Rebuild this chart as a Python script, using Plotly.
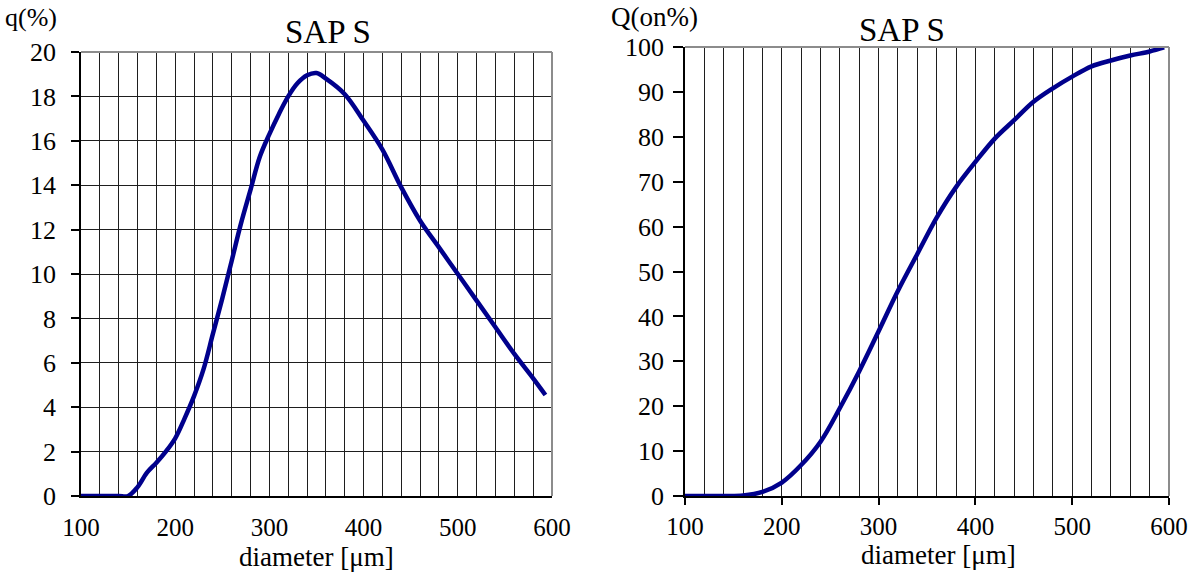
import plotly.graph_objects as go

# ---------------- data ----------------
q_diameter = [100, 120, 140, 150, 160, 170, 180, 190, 200, 210, 220, 230, 240, 250, 260,
              270, 280, 290, 300, 310, 320, 330, 340, 350, 360, 380, 400, 420, 440, 460,
              480, 500, 520, 540, 560, 580, 593]
q_values = [0, 0, 0, 0, 0.4, 1.05, 1.5, 2.0, 2.6, 3.5, 4.5, 5.7, 7.3, 8.9, 10.6,
            12.3, 13.8, 15.3, 16.3, 17.2, 18.0, 18.6, 18.95, 19.05, 18.8, 18.1, 16.9, 15.6, 13.9, 12.4,
            11.2, 10.0, 8.8, 7.6, 6.4, 5.3, 4.55]

Q_diameter = [100, 120, 140, 160, 180, 200, 220, 240, 260, 280, 300, 320, 340, 360, 380,
              400, 420, 440, 460, 480, 500, 520, 540, 560, 580, 595]
Q_values = [0, 0, 0, 0.1, 0.9, 3.0, 6.9, 12.1, 19.6, 27.8, 36.7, 45.7, 53.9, 62.0, 68.8,
            74.4, 79.6, 83.7, 87.8, 90.8, 93.4, 95.7, 97.0, 98.1, 99.0, 99.9]

x_ticks = [100, 200, 300, 400, 500, 600]
x_grid = [100 + 20 * i for i in range(26)]
q_ticks = [0, 2, 4, 6, 8, 10, 12, 14, 16, 18, 20]
Q_ticks = [0, 10, 20, 30, 40, 50, 60, 70, 80, 90, 100]

title_text = "SAP S"
x_title = "diameter [μm]"
q_title = "q(%)"
Q_title = "Q(on%)"

# ---------------- layout helpers ----------------
W, H = 1195, 572
def px(x):
    return x / W
def py(y):
    return 1 - y / H

FONT = "'Liberation Serif', 'DejaVu Serif', serif"
LINE = "#00008C"
GRID = "#1e1e1e"
TS = 26
XS = 25

fig = go.Figure()
fig.add_trace(go.Scatter(x=q_diameter, y=q_values, mode="lines",
                         line=dict(color=LINE, width=4.5, shape="spline", smoothing=1.0),
                         xaxis="x", yaxis="y", hoverinfo="skip"))
fig.add_trace(go.Scatter(x=Q_diameter, y=Q_values, mode="lines",
                         line=dict(color=LINE, width=4.5, shape="spline", smoothing=1.0),
                         xaxis="x2", yaxis="y2", hoverinfo="skip"))

common_x = dict(range=[100, 600], tickmode="array", tickvals=x_ticks,
                ticktext=[str(v) for v in x_ticks], automargin=False,
                showgrid=True, gridcolor=GRID, gridwidth=1.3,
                minor=dict(tickmode="array", tickvals=x_grid, showgrid=True,
                           gridcolor=GRID, gridwidth=1.3, ticks=""),
                showline=True, linecolor="black", linewidth=1.5, zeroline=False,
                tickfont=dict(family=FONT, size=XS, color="black"), fixedrange=True)

fig.update_layout(
    width=W, height=H, margin=dict(l=0, r=0, t=0, b=0, autoexpand=False),
    paper_bgcolor="white", plot_bgcolor="white", showlegend=False,
    font=dict(family=FONT, size=TS, color="black"),
    xaxis=dict(common_x, domain=[px(81), px(552)], anchor="y", ticks="",
               ticklabelstandoff=8),
    yaxis=dict(domain=[py(496), py(52)], range=[0, 20], anchor="x", automargin=False,
               tickmode="array", tickvals=q_ticks, ticktext=[str(v) for v in q_ticks],
               ticks="outside", ticklen=8, tickwidth=1.5, tickcolor="black",
               showgrid=True, gridcolor=GRID, gridwidth=1.3,
               showline=True, linecolor="black", linewidth=1.5, zeroline=False,
               ticklabelstandoff=10,
               tickfont=dict(family=FONT, size=TS, color="black"), fixedrange=True),
    xaxis2=dict(common_x, domain=[px(685), px(1169)], anchor="y2",
                ticks="outside", ticklen=7, tickwidth=1.5, tickcolor="black",
                ticklabelstandoff=0),
    yaxis2=dict(domain=[py(496), py(47)], range=[0, 100], anchor="x2", automargin=False,
                tickmode="array", tickvals=Q_ticks, ticktext=[str(v) for v in Q_ticks],
                ticks="outside", ticklen=10, tickwidth=1.5, tickcolor="black",
                showgrid=False,
                showline=True, linecolor="black", linewidth=1.5, zeroline=False,
                ticklabelstandoff=4,
                tickfont=dict(family=FONT, size=TS, color="black"), fixedrange=True),
)

# grey top / right frame
shapes = []
for xr, yr in (("x domain", "y domain"), ("x2 domain", "y2 domain")):
    shapes.append(dict(type="line", xref=xr, yref=yr, x0=0, x1=1, y0=1, y1=1,
                       line=dict(color="#8c8c8c", width=2), layer="above"))
    shapes.append(dict(type="line", xref=xr, yref=yr, x0=1, x1=1, y0=0, y1=1,
                       line=dict(color="#8c8c8c", width=2), layer="above"))
fig.update_layout(shapes=shapes)

ann = []
def add_text(text, x, y, size, xanchor="center"):
    ann.append(dict(text=text, x=px(x), y=py(y), xref="paper", yref="paper",
                    xanchor=xanchor, yanchor="middle", showarrow=False,
                    font=dict(family=FONT, size=size, color="black")))

add_text(title_text, 328, 32, 33)
add_text(title_text, 902, 30, 33)
add_text(q_title, 31, 18, 26)
add_text(Q_title, 654, 17, 27)
add_text(x_title, 316, 557, 27)
add_text(x_title, 938, 555, 27)
fig.update_layout(annotations=ann)

fig.write_html("out.html")
